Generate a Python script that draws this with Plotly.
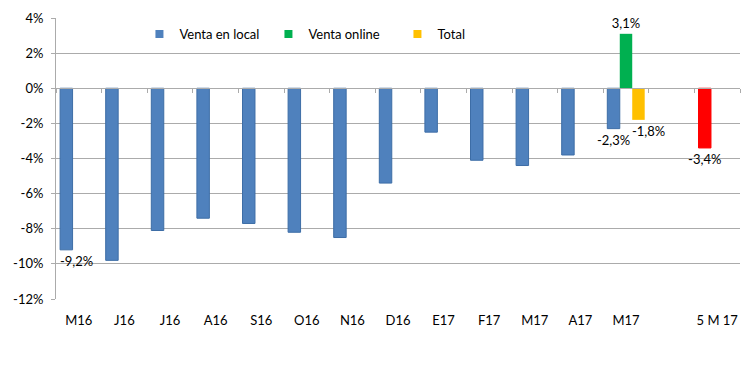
import plotly.graph_objects as go

# ---- data ----
categories = ["M16", "J16", "J16", "A16", "S16", "O16", "N16", "D16",
              "E17", "F17", "M17", "A17", "M17", "", "5 M 17"]
venta_local = [-9.2, -9.8, -8.1, -7.4, -7.7, -8.2, -8.5, -5.4,
               -2.5, -4.1, -4.4, -3.8, -2.3, None, -3.4]
venta_online = [None] * 12 + [3.1, None, None]
total = [None] * 12 + [-1.8, None, None]
local_labelled = [12, 14]             # bars whose value is printed below them
online_labelled = [12]
local_side_label = 0                  # label pushed right (clear of the axis)
total_labelled = 12                   # label pushed right (clear of neighbour)
y_ticks = [4, 2, 0, -2, -4, -6, -8, -10, -12]

BLUE, GREEN, YELLOW, RED = "#4f81bd", "#00b050", "#ffc000", "#ff0000"
GRID = "#ababab"
FONT = "Lato"


def fmt(v):
    return f"{v:.1f}%".replace(".", ",")


def labels(vals, keep):
    return [fmt(v) if (i in keep and v is not None) else "" for i, v in enumerate(vals)]


x = list(range(len(categories)))
local_colors = [BLUE] * (len(categories) - 1) + [RED]
local_lines = ["#3d6da6"] * (len(categories) - 1) + [RED]

fig = go.Figure()
common = dict(textposition="outside", constraintext="none", cliponaxis=False,
              textfont=dict(family=FONT, size=13, color="black"), showlegend=False,
              hoverinfo="skip")
fig.add_trace(go.Bar(
    x=x, y=venta_local, name="Venta en local",
    marker=dict(color=local_colors, line=dict(color=local_lines, width=1)),
    text=labels(venta_local, local_labelled), **common))
fig.add_trace(go.Bar(
    x=x, y=venta_online, name="Venta online",
    marker=dict(color=GREEN, line=dict(width=0)),
    text=labels(venta_online, online_labelled), **common))
fig.add_trace(go.Bar(
    x=x, y=total, name="Total",
    marker=dict(color=YELLOW, line=dict(width=0)),
    text=labels(total, []), **common))

# labels that sit beside their bar in the original
fig.add_annotation(x=x[local_side_label], y=venta_local[local_side_label],
                   text=fmt(venta_local[local_side_label]), showarrow=False,
                   xanchor="left", yanchor="top", xshift=-21, yshift=-1,
                   font=dict(family=FONT, size=13, color="black"))
fig.add_annotation(x=x[total_labelled], y=total[total_labelled],
                   text=fmt(total[total_labelled]), showarrow=False,
                   xanchor="left", yanchor="top", xshift=4, yshift=-1,
                   font=dict(family=FONT, size=13, color="black"))

# legend entries (small square swatches like the original)
for name, col in [("Venta en local", BLUE), ("Venta online", GREEN), ("Total", YELLOW)]:
    fig.add_trace(go.Scatter(x=[None], y=[None], mode="markers", name=name,
                             marker=dict(symbol="square", size=8, color=col),
                             hoverinfo="skip"))

n = len(categories)
fig.update_layout(
    width=750, height=372,
    margin=dict(l=56, r=10, t=18, b=73),
    paper_bgcolor="white", plot_bgcolor="white",
    barmode="group", bargap=0.18, bargroupgap=0,
    font=dict(family=FONT, size=13, color="black"),
    showlegend=True,
    legend=dict(orientation="h", x=0.122, y=0.943, xanchor="left", yanchor="middle",
                font=dict(family=FONT, size=13), bgcolor="rgba(0,0,0,0)",
                itemwidth=30, traceorder="normal", entrywidth=84),
    xaxis=dict(range=[-0.5, n - 0.5], tickvals=x, ticktext=categories,
               showgrid=False, zeroline=False, showline=False, ticks="",
               ticklabelstandoff=12, fixedrange=True, automargin=False),
    xaxis2=dict(range=[-0.5, n - 0.5], overlaying="x", anchor="free",
                position=(0 - y_ticks[-1]) / (y_ticks[0] - y_ticks[-1]),
                side="bottom", showline=True, linecolor=GRID, linewidth=1,
                tickvals=[i - 0.5 for i in range(n + 1)], ticks="outside",
                ticklen=4, tickcolor=GRID, showticklabels=False,
                showgrid=False, zeroline=False, automargin=False, fixedrange=True),
    yaxis=dict(range=[y_ticks[-1], y_ticks[0]], tickvals=y_ticks,
               ticktext=[f"{v}%" for v in y_ticks],
               showgrid=True, gridcolor=GRID, gridwidth=1,
               zeroline=False, showline=True, linecolor=GRID, linewidth=1,
               ticks="outside", ticklen=4, tickcolor=GRID,
               ticklabelstandoff=5, fixedrange=True, automargin=False),
)
fig.add_trace(go.Scatter(x=[None], y=[None], xaxis="x2", showlegend=False, hoverinfo="skip"))

fig.write_html("out.html", config={"displayModeBar": False},
               post_script="document.body.style.margin='0';")
